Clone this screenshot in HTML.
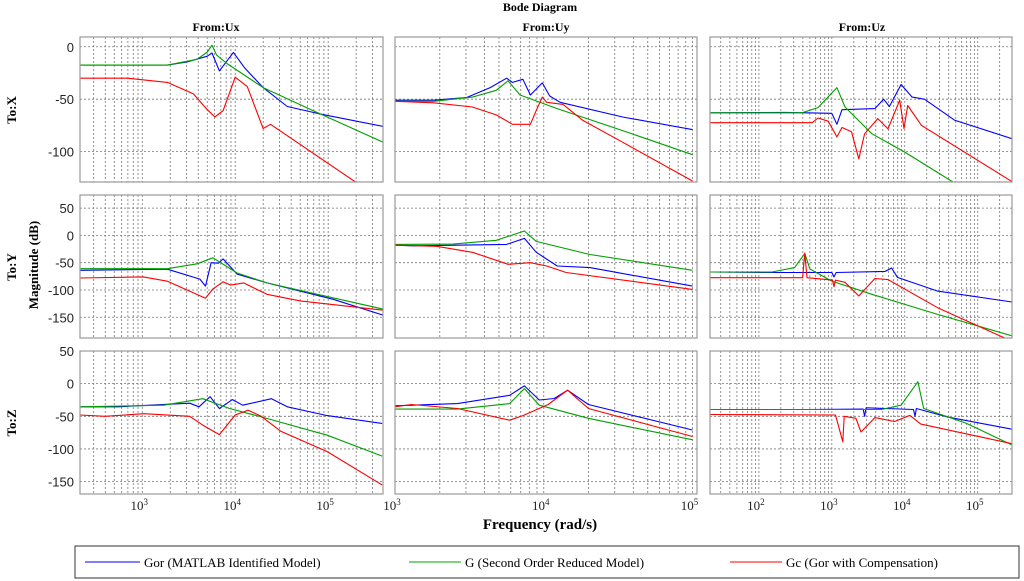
<!DOCTYPE html>
<html><head><meta charset="utf-8">
<style>
body{margin:0;background:#fff;width:1024px;height:581px;overflow:hidden}
svg{display:block}
.serif{font-family:"Liberation Serif",serif}
.sans{font-family:"Liberation Sans","DejaVu Sans",sans-serif}
</style></head>
<body>
<svg id="chart" width="1024" height="581" viewBox="0 0 1024 581" xmlns="http://www.w3.org/2000/svg">
  <text class="serif" x="540" y="11" font-size="12" font-weight="bold" text-anchor="middle">Bode Diagram</text>
  <text class="serif" x="216" y="31" font-size="12" font-weight="bold" text-anchor="middle">From:Ux</text>
  <text class="serif" x="546" y="31" font-size="12" font-weight="bold" text-anchor="middle">From:Uy</text>
  <text class="serif" x="862" y="31" font-size="12" font-weight="bold" text-anchor="middle">From:Uz</text>
  <text class="serif" font-size="13" font-weight="bold" text-anchor="middle" transform="translate(16,110) rotate(-90)">To:X</text>
  <text class="serif" font-size="13" font-weight="bold" text-anchor="middle" transform="translate(16,267) rotate(-90)">To:Y</text>
  <text class="serif" font-size="13" font-weight="bold" text-anchor="middle" transform="translate(16,423) rotate(-90)">To:Z</text>
  <text class="serif" font-size="13" font-weight="bold" text-anchor="middle" transform="translate(38,265) rotate(-90)">Magnitude (dB)</text>
  <text class="serif" x="540" y="529" font-size="15" font-weight="bold" text-anchor="middle">Frequency (rad/s)</text>
  <g id="panels"></g>
  <g>
    <rect x="75" y="546" width="944" height="32" fill="#fff" stroke="#333" stroke-width="1"/>
    <line x1="85" y1="562" x2="140" y2="562" stroke="#0000ff" stroke-width="1"/>
    <text class="serif" x="144" y="567" font-size="13">Gor (MATLAB Identified Model)</text>
    <line x1="409" y1="562" x2="461" y2="562" stroke="#00a000" stroke-width="1"/>
    <text class="serif" x="465" y="567" font-size="13">G (Second Order Reduced Model)</text>
    <line x1="730" y1="562" x2="782" y2="562" stroke="#ff0000" stroke-width="1"/>
    <text class="serif" x="786" y="567" font-size="13">Gc (Gor with Compensation)</text>
  </g>
</svg>
<script>
// ---- data: log10 frequency and magnitude (dB) ----
const ux_x_blue_f = [2.33,3.27,3.48,3.70,3.75,3.83,3.98,4.10,4.30,4.56,4.91,5.59];
const ux_x_blue_db = [-17.5,-17.5,-14.5,-9,-6,-23,-5.4,-20,-39,-57,-64,-76];
const ux_x_green_f = [2.33,3.27,3.59,3.70,3.75,3.80,3.91,4.30,4.84,5.59];
const ux_x_green_db = [-17.5,-17.5,-12,-5,1.5,-8,-16,-39,-61,-91];
const ux_x_red_f = [2.33,2.84,3.27,3.55,3.70,3.78,3.87,4.00,4.13,4.30,4.38,5.31,5.59];
const ux_x_red_db = [-30,-30,-34,-45,-60,-67,-61,-29,-38,-78,-74,-130,-147];

const ux_y_blue_f = [2.33,3.27,3.62,3.68,3.74,3.82,3.87,4.02,4.34,5.05,5.59];
const ux_y_blue_db = [-64,-62,-80,-93,-50,-51,-43,-71,-87,-117,-146];
const ux_y_green_f = [2.33,3.27,3.59,3.76,4.02,4.34,5.59];
const ux_y_green_db = [-61,-61,-52,-41,-69,-87,-135];
const ux_y_red_f = [2.33,3.01,3.27,3.68,3.76,3.87,3.95,4.09,4.34,4.70,5.59];
const ux_y_red_db = [-78,-76,-84,-115,-98,-85,-91,-87,-108,-120,-137];

const ux_z_blue_f = [2.33,2.74,3.51,3.61,3.73,3.83,3.97,4.08,4.39,4.56,4.99,5.58];
const ux_z_blue_db = [-35.5,-35.5,-30,-35.5,-20,-38,-24.4,-33,-23,-35.5,-49,-61];
const ux_z_green_f = [2.33,3.23,3.65,3.94,4.28,4.99,5.58];
const ux_z_green_db = [-35.5,-33,-23,-38,-51,-79,-111];
const ux_z_red_f = [2.33,2.60,3.02,3.51,3.65,3.83,4.00,4.14,4.28,4.49,4.99,5.58];
const ux_z_red_db = [-48,-50,-46,-50,-63.5,-78,-48,-40.7,-50,-73,-104,-155];

const uy_x_blue_f = [3.0,3.26,3.48,3.64,3.75,3.79,3.86,3.91,3.99,4.04,4.11,4.53,5.0];
const uy_x_blue_db = [-51,-51,-48.5,-39,-30,-34,-31,-46,-34.5,-47,-53,-67,-79];
const uy_x_green_f = [3.0,3.26,3.52,3.68,3.76,3.84,4.09,4.53,5.0];
const uy_x_green_db = [-52,-52,-48,-41.5,-32.5,-46,-59,-80,-103];
const uy_x_red_f = [3.0,3.26,3.52,3.68,3.79,3.91,3.95,3.99,4.02,4.13,4.26,4.53,5.0];
const uy_x_red_db = [-52,-53.5,-57.5,-65,-74,-74,-60.6,-48,-53,-55,-70,-91,-128];

const uy_y_blue_f = [3.0,3.12,3.75,3.87,3.95,4.09,4.31,5.0];
const uy_y_blue_db = [-18,-19,-16.5,-5.5,-31,-56,-59,-93];
const uy_y_green_f = [3.0,3.39,3.68,3.87,3.95,4.31,5.0];
const uy_y_green_db = [-16.5,-16,-9,8,-11,-35,-64];
const uy_y_red_f = [3.0,3.28,3.52,3.76,3.91,4.02,4.15,5.0];
const uy_y_red_db = [-18,-20,-31,-53,-50,-56,-68,-99];

const uy_z_blue_f = [3.0,3.42,3.77,3.87,3.97,4.07,4.16,4.30,5.0];
const uy_z_blue_db = [-34,-30.5,-17.8,-3.5,-25,-22.7,-10,-32,-71];
const uy_z_green_f = [3.0,3.42,3.77,3.87,3.97,4.30,5.0];
const uy_z_green_db = [-39,-39,-30.5,-7.6,-33,-53,-86];
const uy_z_red_f = [3.0,3.11,3.42,3.77,3.86,4.03,4.16,4.30,5.0];
const uy_z_red_db = [-35.5,-32,-38,-56,-49,-32,-10,-38,-81];

const uz_x_blue_f = [1.33,2.36,3.0,3.07,3.14,3.59,3.71,3.79,3.95,4.10,4.27,4.68,5.47];
const uz_x_blue_db = [-63,-62.6,-63.5,-74,-60,-59,-50,-57,-36,-48,-50,-70,-87.7];
const uz_x_green_f = [1.33,2.59,2.81,3.07,3.18,3.55,4.0,4.66,5.47];
const uz_x_green_db = [-63,-63,-58,-39,-57.5,-83,-100.5,-129,-180];
const uz_x_red_f = [1.33,2.73,2.81,2.95,3.07,3.14,3.27,3.37,3.45,3.63,3.77,3.93,3.99,4.04,4.23,5.47];
const uz_x_red_db = [-72.4,-72.4,-68,-71,-86,-77,-81,-107,-83,-68.5,-78.3,-51,-78,-56,-75,-128.6];

const uz_y_blue_f = [1.33,2.18,3.0,3.03,3.06,3.73,3.82,3.90,4.45,5.47];
const uz_y_blue_db = [-67,-68,-68,-76,-68,-66,-59.8,-77,-102,-122];
const uz_y_green_f = [1.33,2.18,2.49,2.63,2.70,3.0,3.55,4.45,5.47];
const uz_y_green_db = [-67,-67,-59,-33,-61.5,-83.7,-108,-144.7,-184];
const uz_y_red_f = [1.33,2.60,2.63,2.66,3.01,3.03,3.05,3.18,3.37,3.59,3.77,4.45,5.37];
const uz_y_red_db = [-77.6,-77.6,-32.5,-77.6,-82,-94,-82,-86,-111,-79,-81,-132.5,-188];

const uz_z_blue_f = [1.33,2.70,3.43,3.45,3.47,4.12,4.14,4.16,4.58,5.47];
const uz_z_blue_db = [-39.6,-39.6,-39,-50,-37,-39.6,-50,-38,-51,-69.7];
const uz_z_green_f = [1.33,3.68,3.95,4.18,4.26,4.85,5.47];
const uz_z_green_db = [-39.6,-39.6,-33,3,-38,-61,-94];
const uz_z_red_f = [1.33,3.05,3.15,3.17,3.33,3.40,3.59,3.86,4.07,4.22,5.47];
const uz_z_red_db = [-47.3,-48,-89,-50,-53,-74,-52,-58,-48.7,-62,-92];

// y tick labels per row, x tick decades per column
const rowTicks = [[0,-50,-100],[50,0,-50,-100,-150],[50,0,-50,-100,-150]];
const colDecades = [[3,4,5],[3,4,5],[2,3,4,5]];

// ---- layout ----
const cols = [{x0:80,x1:383,lo:2.33,hi:5.59},{x0:395,x1:697,lo:3.0,hi:5.03},{x0:710,x1:1012,lo:1.33,hi:5.47}];
const rows = [{y0:37,y1:182,top:9.3,bot:-129},{y0:195,y1:338,top:74,bot:-188},{y0:351,y1:494,top:50,bot:-169}];
const NS='http://www.w3.org/2000/svg';
const root=document.getElementById('panels');
const colNames=['ux','uy','uz'], rowNames=['x','y','z'];
const D={
 ux_x:[[ux_x_blue_f,ux_x_blue_db],[ux_x_green_f,ux_x_green_db],[ux_x_red_f,ux_x_red_db]],
 ux_y:[[ux_y_blue_f,ux_y_blue_db],[ux_y_green_f,ux_y_green_db],[ux_y_red_f,ux_y_red_db]],
 ux_z:[[ux_z_blue_f,ux_z_blue_db],[ux_z_green_f,ux_z_green_db],[ux_z_red_f,ux_z_red_db]],
 uy_x:[[uy_x_blue_f,uy_x_blue_db],[uy_x_green_f,uy_x_green_db],[uy_x_red_f,uy_x_red_db]],
 uy_y:[[uy_y_blue_f,uy_y_blue_db],[uy_y_green_f,uy_y_green_db],[uy_y_red_f,uy_y_red_db]],
 uy_z:[[uy_z_blue_f,uy_z_blue_db],[uy_z_green_f,uy_z_green_db],[uy_z_red_f,uy_z_red_db]],
 uz_x:[[uz_x_blue_f,uz_x_blue_db],[uz_x_green_f,uz_x_green_db],[uz_x_red_f,uz_x_red_db]],
 uz_y:[[uz_y_blue_f,uz_y_blue_db],[uz_y_green_f,uz_y_green_db],[uz_y_red_f,uz_y_red_db]],
 uz_z:[[uz_z_blue_f,uz_z_blue_db],[uz_z_green_f,uz_z_green_db],[uz_z_red_f,uz_z_red_db]]
};
const colors=['#0000ff','#00a000','#ff0000'];
const sNames=['gor','g','gc'];
function mk(tag,attrs){const e=document.createElementNS(NS,tag);for(const k in attrs)e.setAttribute(k,attrs[k]);return e;}
const defs=mk('defs',{});root.appendChild(defs);

for(let c=0;c<3;c++){
 const C=cols[c];
 const xs=v=>C.x0+(v-C.lo)/(C.hi-C.lo)*(C.x1-C.x0);
 for(let r=0;r<3;r++){
  const R=rows[r];
  const ys=v=>R.y0+(R.top-v)/(R.top-R.bot)*(R.y1-R.y0);
  const g=mk('g',{});
  
  
  root.appendChild(g);
  const cid='clip'+c+r;
  const cp=mk('clipPath',{id:cid});cp.appendChild(mk('rect',{x:C.x0,y:R.y0,width:C.x1-C.x0,height:R.y1-R.y0}));defs.appendChild(cp);
  g.appendChild(mk('rect',{x:C.x0,y:R.y0,width:C.x1-C.x0,height:R.y1-R.y0,fill:'#fff'}));
  // vertical grid
  for(let d=Math.floor(C.lo);d<=Math.ceil(C.hi);d++){
   for(let m=1;m<10;m++){
    const lv=d+Math.log10(m);
    if(lv<=C.lo+0.002||lv>=C.hi-0.002)continue;
    const x=xs(lv);
    const l=mk('line',{x1:x,y1:R.y0,x2:x,y2:R.y1,stroke:'#777','stroke-width':0.8,'stroke-dasharray':'2,2'});
    
    
    g.appendChild(l);
   }
  }
  // horizontal grid
  rowTicks[r].forEach(t=>{
   const y=ys(t);
   const l=mk('line',{x1:C.x0,y1:y,x2:C.x1,y2:y,stroke:'#777','stroke-width':0.8,'stroke-dasharray':'2,2'});
   
   
   g.appendChild(l);
   if(c===0){
    const tx=mk('text',{x:C.x0-6,y:y+5,'font-size':13,'text-anchor':'end',class:'sans',fill:'#222'});
    
    
    tx.textContent=String(t).replace('-','-');
    g.appendChild(tx);
   }
  });
  // series
  const sg=mk('g',{'clip-path':'url(#'+cid+')'});g.appendChild(sg);
  D[colNames[c]+'_'+rowNames[r]].forEach((s,i)=>{
   const f=s[0],db=s[1];
   let p='';
   for(let k=0;k<f.length;k++){p+=(k?'L':'M')+xs(f[k]).toFixed(1)+','+ys(db[k]).toFixed(1);}
   const path=mk('path',{d:p,fill:'none',stroke:colors[i],'stroke-width':1.1,'stroke-linejoin':'round'});
   
   
   sg.appendChild(path);
  });
  const bd=mk('rect',{x:C.x0,y:R.y0,width:C.x1-C.x0,height:R.y1-R.y0,fill:'none',stroke:'#999','stroke-width':1.2});
  
  
  g.appendChild(bd);
  if(r===2){
   colDecades[c].forEach(d=>{
    const x=xs(d);
    const tx=mk('text',{x:x-3,y:510,'font-size':13,'text-anchor':'middle',class:'serif',fill:'#222'});
    
    
    tx.textContent='10';
    const sup=mk('tspan',{dy:-5,'font-size':9});sup.textContent=String(d);tx.appendChild(sup);
    g.appendChild(tx);
   });
  }
 }
}
</script>
</body></html>
